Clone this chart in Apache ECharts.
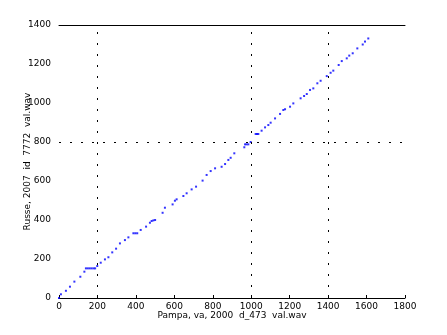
<!DOCTYPE html>
<html>
<head>
<meta charset="utf-8">
<script src="https://cdn.jsdelivr.net/npm/echarts@6/dist/echarts.min.js"></script>
<style>html,body{margin:0;padding:0;background:#fff;}#c{width:447px;height:335px;}</style>
</head>
<body>
<div id="c"></div>
<script>
const xTicks = [0, 200, 400, 600, 800, 1000, 1200, 1400, 1600, 1800];
const yTicks = [0, 200, 400, 600, 800, 1000, 1200, 1400];
const xRefLines = [200, 1000, 1400];
const yRefLines = [800];
const xName = 'Pampa, va, 2000  d_473  val.wav';
const yName = 'Russe, 2007  id  7772  val.wav';
const xVals = [0, 10, 36, 57, 80, 111, 132, 140, 150, 160, 170, 180, 188, 199, 217, 239, 257, 277, 297, 317, 343, 361, 387, 397, 407, 425, 453, 473, 482, 491, 500, 539, 551, 591, 603, 612, 647, 664, 690, 713, 747, 768, 789, 812, 846, 864, 881, 893, 912, 964, 968, 976, 985, 997, 1023, 1030, 1037, 1054, 1072, 1089, 1101, 1124, 1150, 1167, 1176, 1202, 1219, 1257, 1275, 1289, 1306, 1323, 1344, 1361, 1393, 1413, 1427, 1455, 1471, 1497, 1510, 1528, 1552, 1580, 1592, 1609];
const yVals = [0, 19, 37, 58, 84, 109, 135, 152, 152, 152, 152, 152, 152, 164, 181, 198, 209, 234, 253, 280, 297, 311, 332, 332, 332, 349, 366, 386, 395, 398, 400, 437, 463, 480, 499, 506, 523, 537, 557, 571, 602, 631, 651, 665, 673, 687, 708, 719, 742, 773, 788, 788, 788, 800, 841, 841, 841, 858, 875, 887, 899, 921, 944, 964, 968, 981, 998, 1024, 1036, 1046, 1067, 1075, 1101, 1114, 1138, 1155, 1166, 1195, 1215, 1229, 1243, 1255, 1280, 1300, 1315, 1331];

const points = xVals.map((x, i) => [x, yVals[i]]);
const font = {fontFamily: 'DejaVu Sans, sans-serif', fontSize: 9, color: '#000'};
const dash = {color: '#000', width: 1, type: [2, 9]};

const chart = echarts.init(document.getElementById('c'), null, {renderer: 'canvas'});
chart.setOption({
  animation: false,
  backgroundColor: '#fff',
  grid: {left: 59, right: 42, top: 25, bottom: 37},
  xAxis: [{
    type: 'value', min: 0, max: 1800, interval: 200,
    axisLine: {show: true, lineStyle: {color: '#000', width: 1}},
    axisTick: {show: true, inside: true, length: 3, lineStyle: {color: '#000'}},
    axisLabel: Object.assign({margin: 4, formatter: v => xTicks.includes(v) ? String(v) : ''}, font),
    splitLine: {show: false},
    name: xName, nameLocation: 'middle', nameGap: 13, nameMoveOverlap: false,
    nameTextStyle: font
  }, {
    type: 'value', min: 0, max: 1800, position: 'top',
    axisLine: {show: true, onZero: false, lineStyle: {color: '#000', width: 1}},
    axisTick: {show: false}, axisLabel: {show: false}, splitLine: {show: false}
  }],
  yAxis: {
    type: 'value', min: 0, max: 1400, interval: 200,
    axisLine: {show: false},
    axisTick: {show: false},
    axisLabel: Object.assign({margin: 8, formatter: v => yTicks.includes(v) ? String(v) : ''}, font),
    splitLine: {show: false},
    name: yName, nameLocation: 'middle', nameGap: 27, nameMoveOverlap: false,
    nameTextStyle: font
  },
  series: [{
    type: 'scatter',
    data: points,
    symbol: 'rect',
    symbolSize: 2,
    itemStyle: {color: '#0000ff'},
    markLine: {
      silent: true, symbol: 'none', label: {show: false},
      lineStyle: dash,
      data: xRefLines.map(v => ({xAxis: v})).concat(yRefLines.map(v => ({yAxis: v})))
    }
  }]
});
</script>
</body>
</html>
